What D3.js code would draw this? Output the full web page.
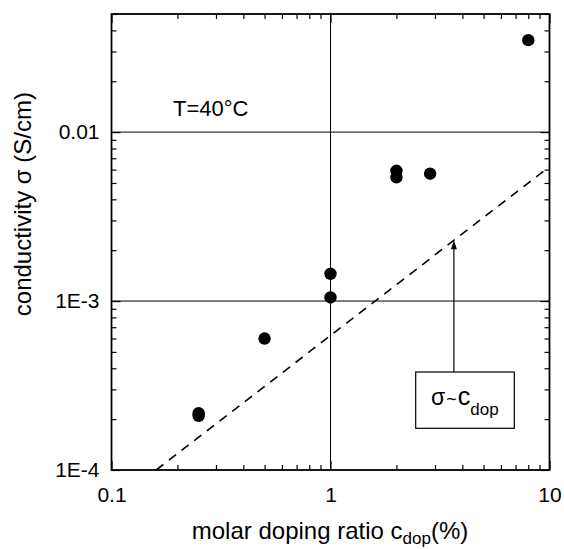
<!DOCTYPE html>
<html>
<head>
<meta charset="utf-8">
<script src="https://cdn.jsdelivr.net/npm/d3@7"></script>
<style>
  html, body { margin: 0; padding: 0; background: #fff; }
  svg { display: block; }
  text { font-family: "Liberation Sans", Arial, sans-serif; fill: #000; }
</style>
</head>
<body>
<svg id="chart" width="564" height="549"></svg>
<script>
// Measured conductivity vs. molar doping ratio at 40 °C
const dopingRatio = [0.25, 0.25, 0.5, 1, 1, 2, 2, 2.85, 8];
const conductivity = [2.17e-4, 2.09e-4, 6.0e-4, 1.45e-3, 1.05e-3, 5.9e-3, 5.4e-3, 5.67e-3, 0.035];

// Linear relation sigma = k * c_dop (slope 1 on log-log axes)
const linearK = 6.25e-4;
const linearRange = [0.16, 10];
const arrowAt = 3.66;

const xMajor = [0.1, 1, 10];
const xTickLabels = ["0.1", "1", "10"];
const yMajor = [1e-4, 1e-3, 0.01];
const yTickLabels = ["1E-4", "1E-3", "0.01"];
const gridX = [1];
const gridY = [1e-3, 0.01];

const svg = d3.select("#chart");
const plotLeft = 111.5, plotRight = 549.5, plotTop = 14, plotBottom = 470;

const x = d3.scaleLog().domain([0.1, 10]).range([plotLeft, plotRight]);
const y = d3.scaleLog().domain([1e-4, 0.05]).range([plotBottom, plotTop]);

// minor tick values: 2..9 within each decade
const xMinor = [];
[0.1, 1].forEach(d => { for (let m = 2; m <= 9; m++) xMinor.push(+(d * m).toPrecision(3)); });
const yMinor = [];
[1e-4, 1e-3, 0.01].forEach(d => { for (let m = 2; m <= 9; m++) { const v = +(d * m).toPrecision(3); if (v <= 0.05) yMinor.push(v); } });

// grid lines
const grid = svg.append("g").attr("stroke", "#000").attr("stroke-width", 1);
grid.selectAll("line.gx").data(gridX).join("line")
  .attr("x1", d => x(d)).attr("x2", d => x(d)).attr("y1", plotTop).attr("y2", plotBottom);
grid.selectAll("line.gy").data(gridY).join("line")
  .attr("x1", plotLeft).attr("x2", plotRight).attr("y1", d => y(d)).attr("y2", d => y(d));

function styleAxis(g) {
  g.select(".domain").remove();
  g.selectAll("line").attr("stroke", "#000").attr("stroke-width", 1.2);
  g.selectAll("text").style("font-family", "Liberation Sans, Arial, sans-serif").style("font-size", "21px").attr("fill", "#000");
}

// bottom axis
svg.append("g").attr("transform", `translate(0,${plotBottom})`)
  .call(d3.axisBottom(x).tickValues(xMinor).tickSize(-5).tickFormat(""))
  .call(styleAxis);
svg.append("g").attr("transform", `translate(0,${plotBottom})`)
  .call(d3.axisBottom(x).tickValues(xMajor).tickSize(-9).tickPadding(17)
    .tickFormat((d, i) => xTickLabels[i]))
  .call(styleAxis);
// top axis
svg.append("g").attr("transform", `translate(0,${plotTop})`)
  .call(d3.axisTop(x).tickValues(xMinor).tickSize(-5).tickFormat(""))
  .call(styleAxis);
svg.append("g").attr("transform", `translate(0,${plotTop})`)
  .call(d3.axisTop(x).tickValues(xMajor).tickSize(-9).tickFormat(""))
  .call(styleAxis);
// left axis
svg.append("g").attr("transform", `translate(${plotLeft},0)`)
  .call(d3.axisLeft(y).tickValues(yMinor).tickSize(-5).tickFormat(""))
  .call(styleAxis);
svg.append("g").attr("transform", `translate(${plotLeft},0)`)
  .call(d3.axisLeft(y).tickValues(yMajor).tickSize(-9).tickPadding(12)
    .tickFormat((d, i) => yTickLabels[i]))
  .call(styleAxis);
// right axis
svg.append("g").attr("transform", `translate(${plotRight},0)`)
  .call(d3.axisRight(y).tickValues(yMinor).tickSize(-5).tickFormat(""))
  .call(styleAxis);
svg.append("g").attr("transform", `translate(${plotRight},0)`)
  .call(d3.axisRight(y).tickValues(yMajor).tickSize(-9).tickFormat(""))
  .call(styleAxis);

// frame
svg.append("rect")
  .attr("x", plotLeft).attr("y", plotTop).attr("width", plotRight - plotLeft).attr("height", plotBottom - plotTop)
  .attr("fill", "none").attr("stroke", "#000").attr("stroke-width", 1.8);

// dashed linear relation
svg.append("line")
  .attr("x1", x(linearRange[0])).attr("y1", y(linearK * linearRange[0]))
  .attr("x2", x(linearRange[1])).attr("y2", y(linearK * linearRange[1]))
  .attr("stroke", "#000").attr("stroke-width", 1.6).attr("stroke-dasharray", "9,7");

// data points
svg.append("g").selectAll("circle").data(dopingRatio).join("circle")
  .attr("cx", d => x(d)).attr("cy", (d, i) => y(conductivity[i]))
  .attr("r", 6.2).attr("fill", "#000");

// annotation box with arrow
const boxX = 415.7, boxY = 372, boxW = 98.6, boxH = 56.3;
const ax = x(arrowAt), ay = y(linearK * arrowAt);
svg.append("line").attr("x1", ax).attr("x2", ax).attr("y1", boxY).attr("y2", ay + 5)
  .attr("stroke", "#000").attr("stroke-width", 1.2);
svg.append("path")
  .attr("d", `M${ax},${ay} L${ax - 3},${ay + 9} L${ax + 3},${ay + 9} Z`)
  .attr("fill", "#000");
svg.append("rect").attr("x", boxX).attr("y", boxY).attr("width", boxW).attr("height", boxH)
  .attr("fill", "#fff").attr("stroke", "#000").attr("stroke-width", 1.2);
const ann = svg.append("text").attr("x", 431).attr("y", 405).style("font-size", "23px");
ann.append("tspan").text("σ");
ann.append("tspan").attr("dx", 1).style("font-size", "18px").text("~");
ann.append("tspan").attr("dx", 1).style("font-size", "25px").text("c");
ann.append("tspan").attr("dy", 10).style("font-size", "17px").text("dop");

// temperature label
svg.append("text").attr("x", 173).attr("y", 116).style("font-size", "22px").text("T=40°C");

// axis titles
const xt = svg.append("text").attr("x", 330).attr("y", 539).attr("text-anchor", "middle").style("font-size", "24px");
xt.append("tspan").text("molar doping ratio c");
xt.append("tspan").attr("dy", 5).style("font-size", "17px").text("dop");
xt.append("tspan").attr("dy", -5).text("(%)");

svg.append("text").attr("transform", "translate(31,92) rotate(-90)")
  .attr("text-anchor", "end").style("font-size", "24px")
  .text("conductivity σ (S/cm)");
</script>
</body>
</html>
